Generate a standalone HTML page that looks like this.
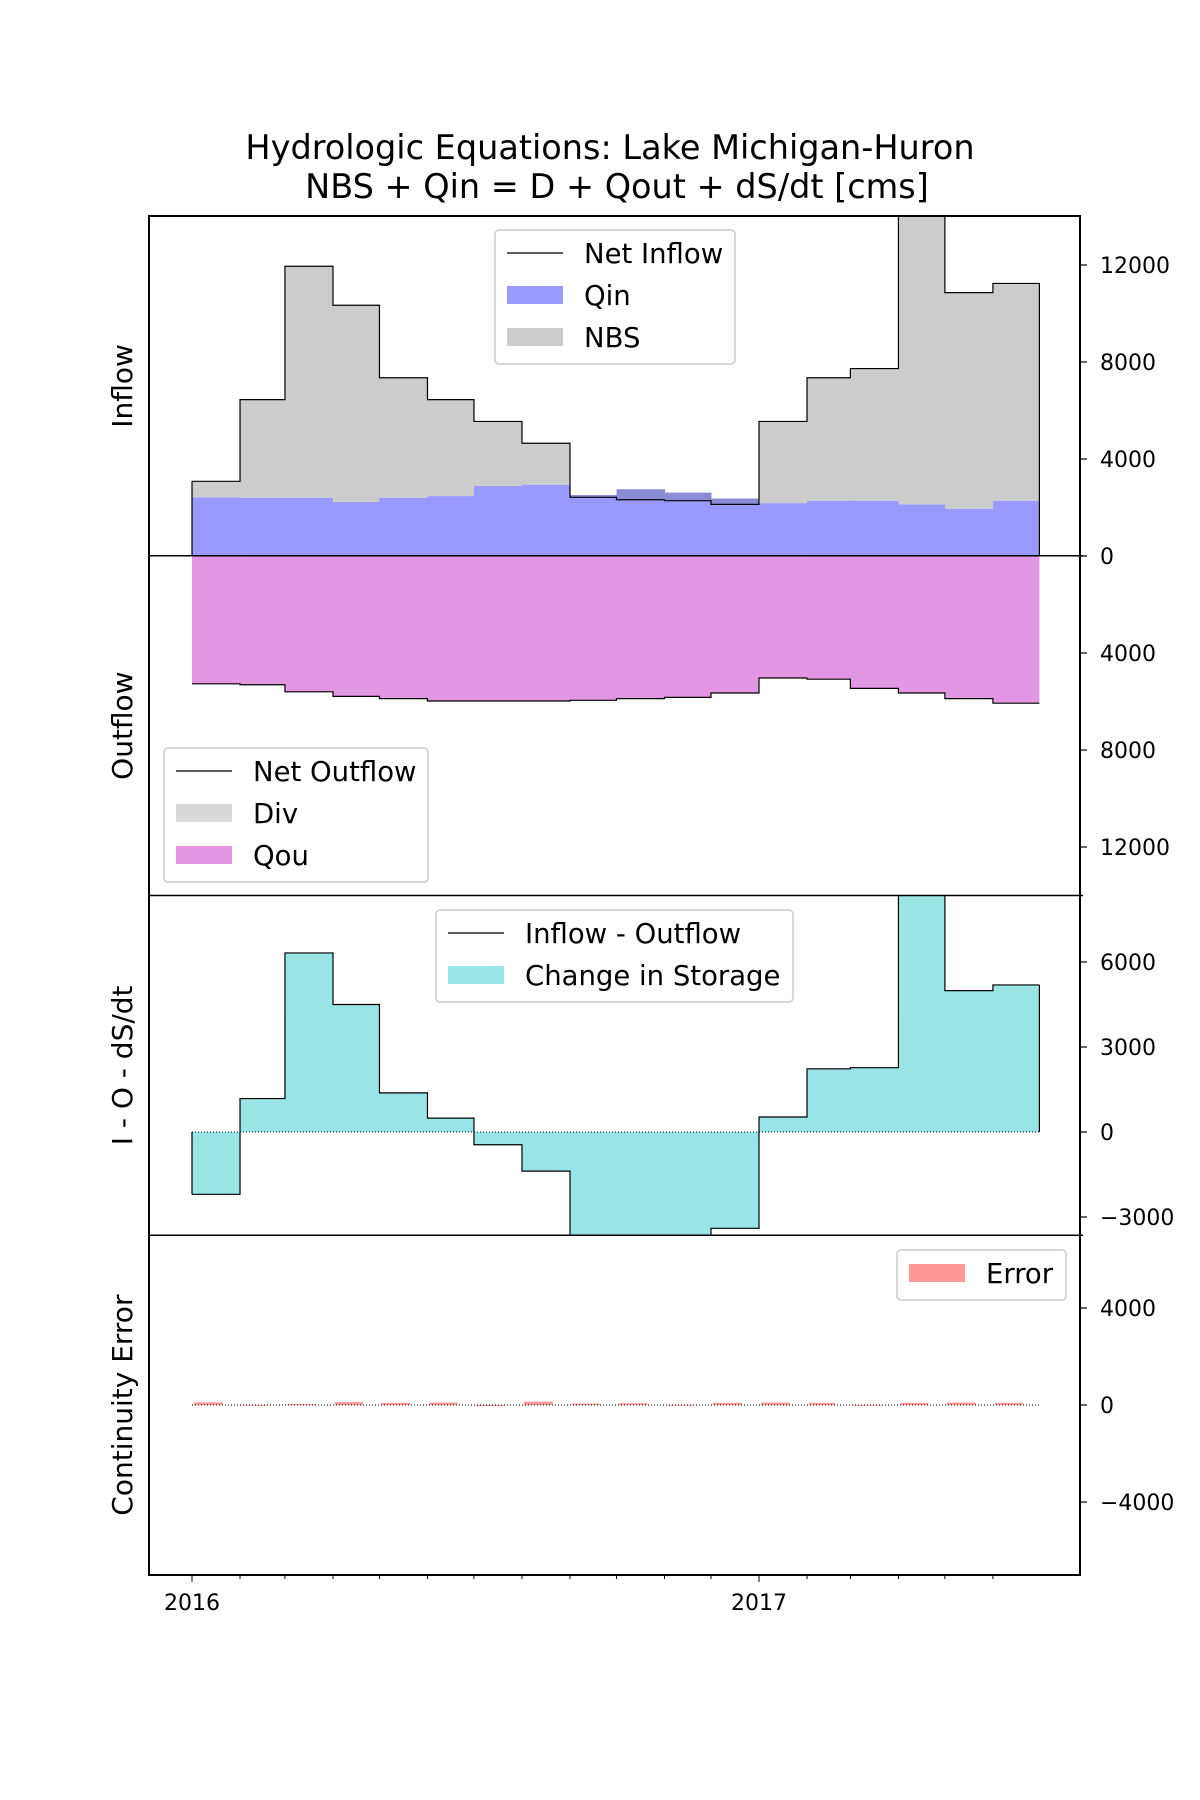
<!DOCTYPE html>
<html><head><meta charset="utf-8">
<style>
html,body{margin:0;padding:0;background:#fff;}
svg{display:block;font-family:"DejaVu Sans","Liberation Sans",sans-serif;}
</style></head>
<body>
<svg id="chart" width="1200" height="1800" viewBox="0 0 1200 1800">
<text x="610" y="159" font-size="33.5" text-anchor="middle">Hydrologic Equations: Lake Michigan-Huron</text>
<text x="617" y="198" font-size="33.5" text-anchor="middle">NBS + Qin = D + Qout + dS/dt [cms]</text>
<g id="marks"></g>
</svg>
<script>
const months = ["2016-01","2016-02","2016-03","2016-04","2016-05","2016-06","2016-07","2016-08","2016-09","2016-10","2016-11","2016-12","2017-01","2017-02","2017-03","2017-04","2017-05","2017-06"];
const netInflow = [3080,6450,11950,10340,7350,6450,5550,4650,2420,2320,2280,2130,5550,7350,7730,14200,10860,11240];
const qin = [2420,2400,2400,2230,2400,2470,2890,2940,2510,2750,2610,2370,2180,2280,2280,2130,1950,2280];
const netOutflow = [5270,5310,5600,5790,5880,5980,5980,5980,5950,5880,5830,5650,5030,5080,5460,5650,5880,6070];
const storage = [-2200,1180,6320,4500,1380,490,-450,-1380,-3750,-3750,-3700,-3400,530,2230,2270,8400,4990,5190];
const errors = [110,-30,40,120,90,100,-40,140,60,70,-30,90,100,90,-30,90,100,90];
const ticksInflow = [0,4000,8000,12000];
const ticksOutflow = [4000,8000,12000];
const ticksStorage = [-3000,0,3000,6000];
const ticksError = [-4000,0,4000];
const yearLabels = ["2016","2017"];

const NS="http://www.w3.org/2000/svg";
const g=document.getElementById('marks');
const L=149,R=1080,T=216,PH=339.75;
const x0=192,pxDay=567/366;
const monthDays=[31,29,31,30,31,30,31,31,30,31,30,31,31,28,31,30,31,30];
const cum=[0];monthDays.forEach(dd=>cum.push(cum[cum.length-1]+dd));
function xm(i){return x0+cum[i]*pxDay;}
function mk(tag,attrs,parent){const e=document.createElementNS(NS,tag);for(const k in attrs)e.setAttribute(k,attrs[k]);(parent||g).appendChild(e);return e;}
const p1=v=>556-v*291/12000;
const p2=v=>556+v*291/12000;
const p3=v=>1132-v*85/3000;
const p4=v=>1405-v*97/4000;

const clip=mk('clipPath',{id:'cp'});
mk('rect',{x:L,y:T,width:R-L,height:4*PH},clip);
const d=mk('g',{'clip-path':'url(#cp)'});

for(let i=0;i<months.length;i++){
  const w=xm(i+1)-xm(i)+0.5;
  const r=mk('rect',{x:xm(i),y:p1(qin[i]),width:w,height:p1(0)-p1(qin[i]),fill:'#9999ff'},d);
  
  
  if(netInflow[i]>=qin[i]){
    const n=mk('rect',{x:xm(i),y:p1(netInflow[i]),width:w,height:p1(qin[i])-p1(netInflow[i]),fill:'#cccccc'},d);
    
    
  } else {
    const n=mk('rect',{x:xm(i),y:p1(qin[i]),width:w,height:p1(netInflow[i])-p1(qin[i]),fill:'#8c8cd6'},d);
    
    
  }
}
function stepPath(arr,f){let s='M'+xm(0)+','+f(arr[0]);for(let i=0;i<arr.length;i++){if(i>0)s+=' L'+xm(i)+','+f(arr[i]);s+=' L'+xm(i+1)+','+f(arr[i]);}return s;}
function stepFill(arr,f,base){return stepPath(arr,f)+' L'+xm(arr.length)+','+f(base)+' L'+xm(0)+','+f(base)+' Z';}
let pth=mk('path',{d:stepPath(netInflow,p1)+' L'+xm(netInflow.length)+','+p1(0)+' M'+xm(0)+','+p1(0)+' L'+xm(0)+','+p1(netInflow[0]),fill:'none',stroke:'#000','stroke-width':1.2},d);


pth=mk('path',{d:stepFill(netOutflow,p2,0),fill:'#e397e3'},d);


pth=mk('path',{d:stepPath(netOutflow,p2),fill:'none',stroke:'#000','stroke-width':1.2},d);


const c3=mk('clipPath',{id:'cp3'});
mk('rect',{x:L,y:T+2*PH,width:R-L,height:PH},c3);
const d3=mk('g',{'clip-path':'url(#cp3)'});
pth=mk('path',{d:stepFill(storage,p3,0),fill:'#99e4e4'},d3);


pth=mk('path',{d:stepPath(storage,p3)+' M'+xm(0)+','+p3(0)+' L'+xm(0)+','+p3(storage[0])+' M'+xm(storage.length)+','+p3(storage[storage.length-1])+' L'+xm(storage.length)+','+p3(0),fill:'none',stroke:'#000','stroke-width':1.2},d3);


mk('line',{x1:xm(0),x2:xm(18),y1:p3(0),y2:p3(0),stroke:'#000','stroke-width':1,'stroke-dasharray':'1,2'},d3);
for(let i=0;i<months.length;i++){
  const v=errors[i];
  const e=mk('rect',{x:xm(i)+2,y:Math.min(p4(v),p4(0)),width:(xm(i+1)-xm(i))*0.6,height:Math.abs(p4(v)-p4(0)),fill:'#ff9999'},d);
  
  
}
mk('line',{x1:xm(0),x2:xm(18),y1:p4(0),y2:p4(0),stroke:'#000','stroke-width':1,'stroke-dasharray':'1,2'},d);

mk('rect',{x:L,y:T,width:R-L,height:4*PH,fill:'none',stroke:'#000','stroke-width':2});
for(let k=1;k<4;k++)mk('line',{x1:L,x2:R+3,y1:T+k*PH,y2:T+k*PH,stroke:'#000','stroke-width':1.5});

function yticks(arr,f,name){arr.forEach(v=>{const y=f(v);mk('line',{x1:R,x2:R+7,y1:y,y2:y,stroke:'#000','stroke-width':1.2});
 const t=mk('text',{x:R+20,y:y+8,'font-size':22});t.textContent=(v<0?'\u2212'+Math.abs(v):String(v));
 
 });}
yticks(ticksInflow,p1,'inflow-tick-label');
yticks(ticksOutflow,p2,'outflow-tick-label');
yticks(ticksStorage,p3,'storage-tick-label');
yticks(ticksError,p4,'error-tick-label');
const yb=T+4*PH;
for(let i=0;i<=17;i++){const x=xm(i);mk('line',{x1:x,x2:x,y1:yb,y2:yb+(i%12===0?7:4),stroke:'#000','stroke-width':1});}
yearLabels.forEach((lab,k)=>{const t=mk('text',{x:xm(12*k),y:yb+35,'font-size':22,'text-anchor':'middle'});t.textContent=lab;
 
 });
[['Inflow','inflow-axis-title'],['Outflow','outflow-axis-title'],['I - O - dS/dt','storage-axis-title'],['Continuity Error','error-axis-title']].forEach((a,k)=>{
 const cy=T+PH*(k+0.5);const t=mk('text',{x:132,y:cy,'font-size':28,'text-anchor':'middle',transform:'rotate(-90 132 '+cy+')'});t.textContent=a[0];
 
 });
function legend(x,y,w,h,items,name){const lg=mk('g',{});
 mk('rect',{x:x,y:y,width:w,height:h,rx:4,fill:'#fff','fill-opacity':0.85,stroke:'#cccccc','stroke-width':1.5},lg);
 items.forEach((it,k)=>{const cy=y+23+k*42;
  if(it[1]==='line')mk('line',{x1:x+12,x2:x+68,y1:cy,y2:cy,stroke:'#000','stroke-width':1.2},lg);
  else mk('rect',{x:x+12,y:cy-9,width:56,height:18,fill:it[1]},lg);
  const t=mk('text',{x:x+89,y:cy+10,'font-size':27.5},lg);t.textContent=it[0];});}
legend(495,230,240,134,[['Net Inflow','line'],['Qin','#9999ff'],['NBS','#cccccc']],'inflow-legend');
legend(164,748,264,134,[['Net Outflow','line'],['Div','#d9d9d9'],['Qou','#e397e3']],'outflow-legend');
legend(436,910,357,92,[['Inflow - Outflow','line'],['Change in Storage','#99e4e4']],'storage-legend');
legend(897,1250,169,50,[['Error','#ff9999']],'error-legend');
</script>
</body></html>
